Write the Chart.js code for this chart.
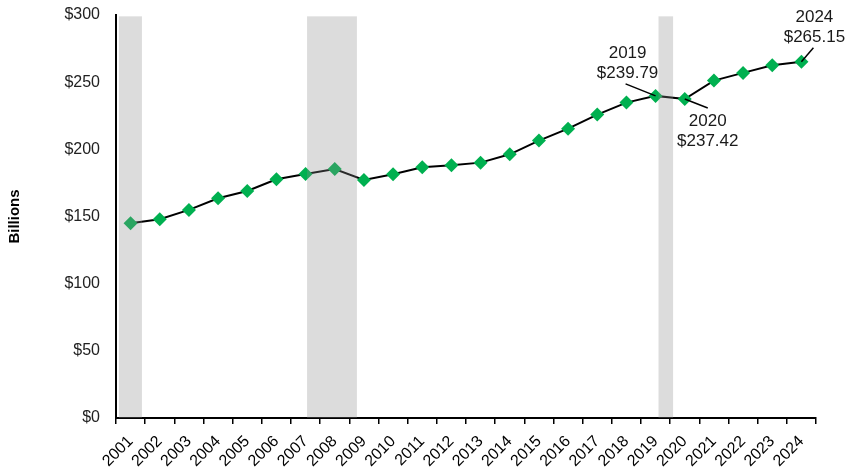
<!DOCTYPE html>
<html>
<head>
<meta charset="utf-8">
<script src="https://cdn.jsdelivr.net/npm/chart.js@4/dist/chart.umd.min.js"></script>
<style>
html,body{margin:0;padding:0;background:#fff;}
#wrap{width:848px;height:468px;position:relative;}
</style>
</head>
<body>
<div id="wrap"><canvas id="c" width="848" height="468"></canvas></div>
<script>
const years = ['2001','2002','2003','2004','2005','2006','2007','2008','2009','2010','2011','2012','2013','2014','2015','2016','2017','2018','2019','2020','2021','2022','2023','2024'];
const values = [145.0,148.0,154.9,163.6,169.0,177.7,181.7,185.4,177.2,181.4,186.7,188.2,190.1,196.3,206.5,215.4,225.9,234.8,239.79,237.42,251.2,256.9,262.6,265.15];
const yTicks = [0,50,100,150,200,250,300];
// recession shading, in category-index units (start, end)
const bandStart = [-0.40, 6.05, 18.10];
const bandEnd   = [0.39, 7.76, 18.60];
const bandTop = 299;
// callouts
const calloutIdx = [18, 19, 23];
const calloutText = [['2019','$239.79'],['2020','$237.42'],['2024','$265.15']];

const FONT = '"Liberation Sans", Arial, sans-serif';

const shadePlugin = {
  id:'shade',
  afterDatasetsDraw(chart){
    const {ctx, scales:{x,y}} = chart;
    ctx.save();
    ctx.fillStyle = 'rgba(140,140,140,0.3)';
    for(let i=0;i<bandStart.length;i++){
      const x0 = x.getPixelForValue(bandStart[i]);
      const x1 = x.getPixelForValue(bandEnd[i]);
      const y0 = y.getPixelForValue(bandTop);
      const y1 = y.getPixelForValue(0);
      ctx.fillRect(x0, y0, x1-x0, y1-y0);
    }
    ctx.restore();
  }
};

const calloutPlugin = {
  id:'callout',
  afterDraw(chart){
    const {ctx} = chart;
    const meta = chart.getDatasetMeta(0);
    // offsets relative to the point: [textDx, textDy(first line center), leaderDx, leaderDy]
    const offs = [[-28,-43,-30,-12],[23,22,23,9],[13,-45,12,-14]];
    ctx.save();
    ctx.font = '17px ' + FONT;
    ctx.fillStyle = '#1a1a1a';
    ctx.textAlign = 'center';
    ctx.textBaseline = 'middle';
    ctx.strokeStyle = '#000';
    ctx.lineWidth = 1.5;
    calloutIdx.forEach((idx,k)=>{
      const p = meta.data[idx];
      const o = offs[k];
      ctx.beginPath();
      ctx.moveTo(p.x + o[2], p.y + o[3]);
      ctx.lineTo(p.x, p.y);
      ctx.stroke();
      ctx.fillText(calloutText[k][0], p.x + o[0], p.y + o[1]);
      ctx.fillText(calloutText[k][1], p.x + o[0], p.y + o[1] + 20);
    });
    ctx.restore();
  }
};

new Chart(document.getElementById('c'), {
  type:'line',
  data:{
    labels: years,
    datasets:[{
      data: values,
      borderColor:'#000',
      borderWidth:2,
      pointStyle:'rectRot',
      pointRadius:7,
      pointHoverRadius:7,
      pointBackgroundColor:'#00B050',
      pointBorderColor:'#00B050',
      pointBorderWidth:0,
      tension:0
    }]
  },
  options:{
    responsive:false,
    animation:false,
    events:[],
    layout:{padding:{left:0,right:32,top:15,bottom:0}},
    plugins:{legend:{display:false},tooltip:{enabled:false}},
    scales:{
      x:{
        offset:true,
        grid:{display:true,drawOnChartArea:false,drawTicks:true,tickLength:6,color:'#000',lineWidth:1.5,offset:true},
        border:{display:true,color:'#000',width:2},
        ticks:{color:'#000',font:{family:FONT,size:16},minRotation:45,maxRotation:45,padding:8,autoSkip:false},
        afterFit(s){ s.height = 50; }
      },
      y:{
        min:0,max:300,
        afterBuildTicks(s){ s.ticks = yTicks.map(v=>({value:v})); },
        grid:{display:false,drawTicks:false},
        border:{display:true,color:'#000',width:2},
        ticks:{color:'#222',font:{family:FONT,size:16},padding:16,callback:v=>'$'+v},
        title:{display:true,text:'Billions',color:'#000',font:{family:FONT,size:15,weight:'bold'},padding:{top:6,bottom:0}},
        afterFit(s){ s.width = 116; s.paddingTop = 0; s.paddingBottom = 0; }
      }
    }
  },
  plugins:[shadePlugin, calloutPlugin]
});
</script>
</body>
</html>
